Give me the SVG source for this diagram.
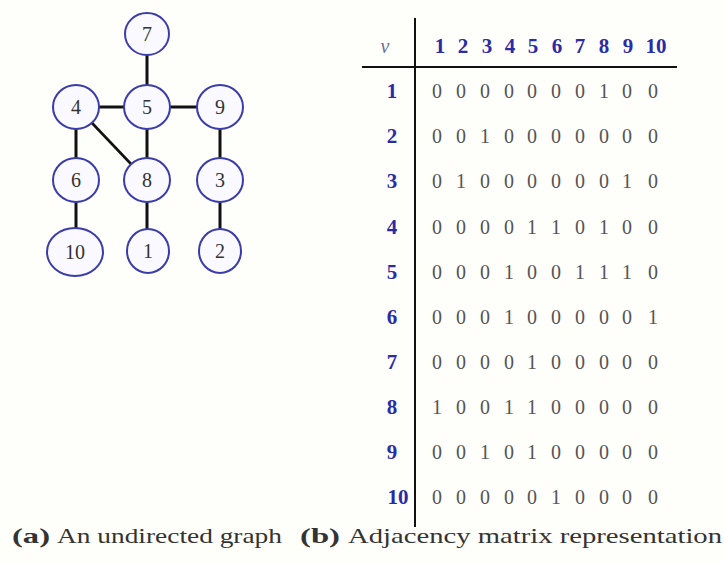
<svg xmlns="http://www.w3.org/2000/svg" width="724" height="562" viewBox="0 0 724 562">
  <style>
    .node ellipse { fill: #f9f9ff; stroke: #3b3bab; stroke-width: 2; }
    .node text { font-family: "Liberation Serif", "DejaVu Serif", serif; font-size: 20px; fill: #333; text-anchor: middle; }
    .edge { stroke: #111; stroke-width: 3; stroke-linecap: butt; }
    .cell { font-family: "Liberation Serif", "DejaVu Serif", serif; font-size: 20px; fill: #555; text-anchor: middle; }
    .head { font-family: "Liberation Serif", "DejaVu Serif", serif; font-size: 21px; font-weight: bold; fill: #2b2ba5; text-anchor: middle; }
    .rule { stroke: #111; stroke-width: 2; }
    .cap { font-family: "Liberation Serif", "DejaVu Serif", serif; font-size: 21px; fill: #333; }
    .capb { font-weight: bold; }
  </style>
  <rect width="724" height="562" fill="#fefefb"/>

  <!-- (a) undirected graph: edges -->
  <g id="connectors">
    <line class="edge" x1="147" y1="55" x2="147" y2="86"/>
    <line class="edge" x1="99" y1="107" x2="124" y2="107"/>
    <line class="edge" x1="170" y1="107" x2="197" y2="107"/>
    <line class="edge" x1="76" y1="129" x2="76" y2="158"/>
    <line class="edge" x1="76" y1="202" x2="76" y2="228"/>
    <line class="edge" x1="147" y1="129" x2="147" y2="158"/>
    <line class="edge" x1="147" y1="202" x2="147" y2="229"/>
    <line class="edge" x1="220" y1="129" x2="220" y2="158"/>
    <line class="edge" x1="220" y1="202" x2="220" y2="229"/>
    <line class="edge" x1="92" y1="123" x2="131" y2="164" style="stroke-width:2.6"/>
  </g>

  <!-- (a) undirected graph: vertices -->
  <g id="n7" class="node"><ellipse cx="147" cy="34" rx="22" ry="21"/><text x="147" y="41">7</text></g>
  <g id="n4" class="node"><ellipse cx="76" cy="107" rx="23" ry="22"/><text x="76" y="114">4</text></g>
  <g id="n5" class="node"><ellipse cx="147" cy="107" rx="23" ry="22"/><text x="147" y="114">5</text></g>
  <g id="n9" class="node"><ellipse cx="220" cy="107" rx="23" ry="22"/><text x="220" y="114">9</text></g>
  <g id="n6" class="node"><ellipse cx="76" cy="180" rx="23" ry="22"/><text x="76" y="187">6</text></g>
  <g id="n8" class="node"><ellipse cx="147" cy="180" rx="23" ry="22"/><text x="147" y="187">8</text></g>
  <g id="n3" class="node"><ellipse cx="220" cy="180" rx="23" ry="22"/><text x="220" y="187">3</text></g>
  <g id="n10" class="node"><ellipse cx="75" cy="252" rx="28" ry="24"/><text x="75" y="259">10</text></g>
  <g id="n1" class="node"><ellipse cx="148" cy="251" rx="21" ry="22"/><text x="148" y="258">1</text></g>
  <g id="n2" class="node"><ellipse cx="220" cy="251" rx="21" ry="22"/><text x="220" y="258">2</text></g>

  <!-- (b) adjacency matrix -->
  <g id="matrix">
    <line class="rule" x1="415" y1="18" x2="415" y2="527"/>
    <line class="rule" x1="362" y1="67" x2="677" y2="67"/>
    <text x="385" y="53" font-family="Liberation Serif, DejaVu Serif, serif" font-size="20" font-style="italic" fill="#6b6b9a" text-anchor="middle">v</text>
    <text class="head" x="440 463 487 510 533 557 580 604 628" y="53">123456789</text>
    <text class="head" x="656" y="53">10</text>

    <g class="head">
      <text x="392" y="98">1</text>
      <text x="392" y="143">2</text>
      <text x="392" y="188">3</text>
      <text x="392" y="234">4</text>
      <text x="392" y="279">5</text>
      <text x="392" y="324">6</text>
      <text x="392" y="369">7</text>
      <text x="392" y="414">8</text>
      <text x="392" y="459">9</text>
      <text x="398" y="504">10</text>
    </g>

    <g class="cell">
      <text x="437 461 485 509 532 556 580 604 627 653" y="98">0000000100</text>
      <text x="437 461 485 509 532 556 580 604 627 653" y="143">0010000000</text>
      <text x="437 461 485 509 532 556 580 604 627 653" y="188">0100000010</text>
      <text x="437 461 485 509 532 556 580 604 627 653" y="234">0000110100</text>
      <text x="437 461 485 509 532 556 580 604 627 653" y="279">0001001110</text>
      <text x="437 461 485 509 532 556 580 604 627 653" y="324">0001000001</text>
      <text x="437 461 485 509 532 556 580 604 627 653" y="369">0000100000</text>
      <text x="437 461 485 509 532 556 580 604 627 653" y="414">1001100000</text>
      <text x="437 461 485 509 532 556 580 604 627 653" y="459">0010100000</text>
      <text x="437 461 485 509 532 556 580 604 627 653" y="504">0000010000</text>
    </g>
  </g>

  <!-- captions -->
  <g id="captions">
    <text class="cap capb" x="12" y="543" textLength="38" lengthAdjust="spacingAndGlyphs">(a)</text>
    <text class="cap" x="57" y="543" textLength="225" lengthAdjust="spacingAndGlyphs">An undirected graph</text>
    <text class="cap capb" x="300" y="543" textLength="40" lengthAdjust="spacingAndGlyphs">(b)</text>
    <text class="cap" x="348" y="543" textLength="374" lengthAdjust="spacingAndGlyphs">Adjacency matrix representation</text>
  </g>
</svg>
